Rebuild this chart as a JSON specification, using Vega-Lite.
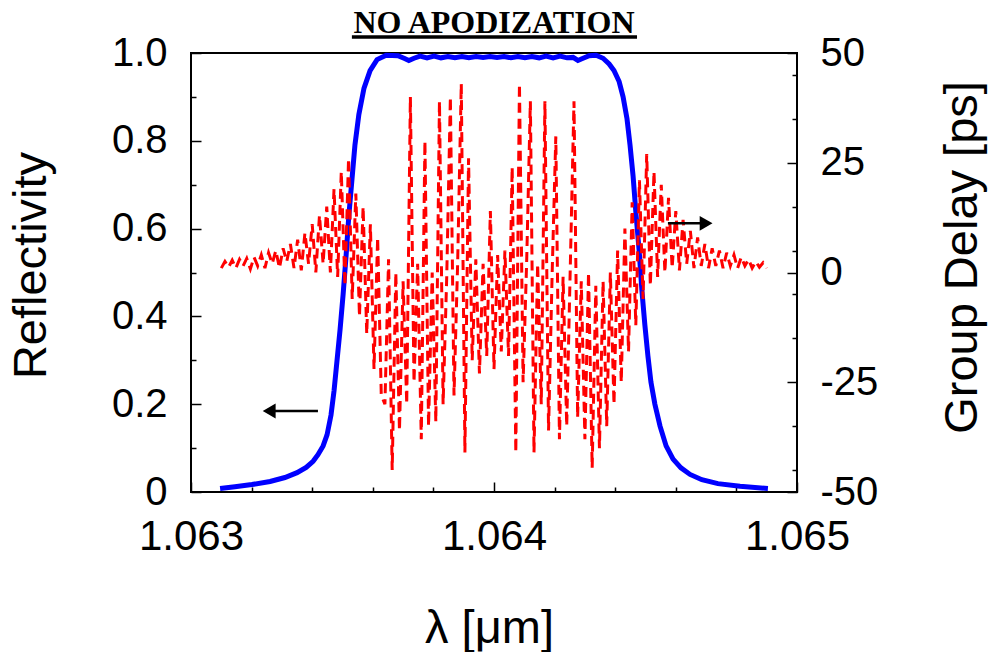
{
  "$schema": "https://vega.github.io/schema/vega-lite/v6.json",
  "width": 606,
  "height": 439,
  "autosize": {"type": "none"},
  "padding": {"left": 191, "top": 53, "right": 193, "bottom": 160},
  "background": "white",
  "config": {
    "view": {"stroke": "black", "strokeWidth": 2},
    "axis": {"grid": false, "domain": false, "labelFont": "Liberation Sans", "titleFont": "Liberation Sans", "labelFontSize": 40, "titleFontSize": 47, "titleFontWeight": "normal", "labelColor": "black", "titleColor": "black", "tickColor": "black", "tickWidth": 1.5, "labelOverlap": false, "labelFlush": false, "labelBound": false}
  },
  "title": {"text": "NO APODIZATION", "font": "Liberation Serif", "fontSize": 32, "fontWeight": "bold", "anchor": "middle", "offset": -7, "color": "black"},
  "datasets": {
    "refl": [
      {"w": 1.063096, "r": 0.008}, {"w": 1.063145, "r": 0.012}, {"w": 1.063201, "r": 0.017}, {"w": 1.063261, "r": 0.024},
      {"w": 1.063310, "r": 0.033}, {"w": 1.063350, "r": 0.044}, {"w": 1.063380, "r": 0.056}, {"w": 1.063403, "r": 0.07},
      {"w": 1.063419, "r": 0.085}, {"w": 1.063436, "r": 0.105}, {"w": 1.063449, "r": 0.13}, {"w": 1.063462, "r": 0.175},
      {"w": 1.063472, "r": 0.23}, {"w": 1.063482, "r": 0.30}, {"w": 1.063492, "r": 0.37}, {"w": 1.063502, "r": 0.45},
      {"w": 1.063512, "r": 0.54}, {"w": 1.063521, "r": 0.63}, {"w": 1.063531, "r": 0.71}, {"w": 1.063541, "r": 0.79},
      {"w": 1.063554, "r": 0.86}, {"w": 1.063571, "r": 0.92}, {"w": 1.063591, "r": 0.96}, {"w": 1.063614, "r": 0.985},
      {"w": 1.063644, "r": 0.995}, {"w": 1.063683, "r": 0.994}, {"w": 1.063703, "r": 0.988}, {"w": 1.063719, "r": 0.983},
      {"w": 1.063736, "r": 0.988}, {"w": 1.063756, "r": 0.993}, {"w": 1.063779, "r": 0.989}, {"w": 1.063802, "r": 0.993},
      {"w": 1.063825, "r": 0.989}, {"w": 1.063848, "r": 0.992}, {"w": 1.063871, "r": 0.989}, {"w": 1.063894, "r": 0.992},
      {"w": 1.063917, "r": 0.989}, {"w": 1.063941, "r": 0.992}, {"w": 1.063964, "r": 0.990}, {"w": 1.063987, "r": 0.992},
      {"w": 1.064010, "r": 0.990}, {"w": 1.064033, "r": 0.992}, {"w": 1.064056, "r": 0.989}, {"w": 1.064079, "r": 0.992},
      {"w": 1.064102, "r": 0.989}, {"w": 1.064125, "r": 0.992}, {"w": 1.064149, "r": 0.989}, {"w": 1.064172, "r": 0.993},
      {"w": 1.064195, "r": 0.989}, {"w": 1.064218, "r": 0.993}, {"w": 1.064241, "r": 0.989}, {"w": 1.064261, "r": 0.990},
      {"w": 1.064277, "r": 0.983}, {"w": 1.064294, "r": 0.988}, {"w": 1.064314, "r": 0.994}, {"w": 1.064337, "r": 0.995},
      {"w": 1.064360, "r": 0.988}, {"w": 1.064380, "r": 0.975}, {"w": 1.064396, "r": 0.96}, {"w": 1.064413, "r": 0.935},
      {"w": 1.064426, "r": 0.90}, {"w": 1.064439, "r": 0.85}, {"w": 1.064449, "r": 0.79}, {"w": 1.064459, "r": 0.72},
      {"w": 1.064469, "r": 0.63}, {"w": 1.064479, "r": 0.55}, {"w": 1.064488, "r": 0.46}, {"w": 1.064498, "r": 0.38},
      {"w": 1.064508, "r": 0.31}, {"w": 1.064518, "r": 0.25}, {"w": 1.064531, "r": 0.2}, {"w": 1.064548, "r": 0.15},
      {"w": 1.064568, "r": 0.105}, {"w": 1.064591, "r": 0.075}, {"w": 1.064617, "r": 0.055}, {"w": 1.064647, "r": 0.04},
      {"w": 1.064686, "r": 0.028}, {"w": 1.064739, "r": 0.019}, {"w": 1.064812, "r": 0.013}, {"w": 1.064904, "r": 0.008}
    ],
    "delay": [
      {"w": 1.063100, "g": 1.0}, {"w": 1.063112, "g": 2.5}, {"w": 1.063124, "g": 1.2}, {"w": 1.063136, "g": 2.8},
      {"w": 1.063148, "g": 1.0}, {"w": 1.063160, "g": 3.0}, {"w": 1.063172, "g": 1.5}, {"w": 1.063184, "g": 3.2},
      {"w": 1.063196, "g": 0.8}, {"w": 1.063208, "g": 3.5}, {"w": 1.063220, "g": 1.5}, {"w": 1.063232, "g": 4.0},
      {"w": 1.063244, "g": 1.0}, {"w": 1.063256, "g": 4.5}, {"w": 1.063268, "g": 2.0}, {"w": 1.063280, "g": 5.0},
      {"w": 1.063292, "g": 1.0}, {"w": 1.063304, "g": 5.5}, {"w": 1.063316, "g": 2.5}, {"w": 1.063328, "g": 6.5},
      {"w": 1.063340, "g": 1.0}, {"w": 1.063352, "g": 7.5}, {"w": 1.063364, "g": 0.5}, {"w": 1.063376, "g": 9},
      {"w": 1.063388, "g": 2}, {"w": 1.063400, "g": 11}, {"w": 1.063412, "g": 0}, {"w": 1.063424, "g": 13},
      {"w": 1.063436, "g": 2}, {"w": 1.063448, "g": 15}, {"w": 1.063460, "g": 0}, {"w": 1.063472, "g": 19},
      {"w": 1.063484, "g": -1}, {"w": 1.063496, "g": 23}, {"w": 1.063508, "g": -3}, {"w": 1.063520, "g": 26},
      {"w": 1.063532, "g": -6}, {"w": 1.063544, "g": 18}, {"w": 1.063556, "g": -10}, {"w": 1.063568, "g": 15},
      {"w": 1.063580, "g": -14}, {"w": 1.063592, "g": 11}, {"w": 1.063604, "g": -22}, {"w": 1.063616, "g": 8},
      {"w": 1.063628, "g": -28}, {"w": 1.063640, "g": -30}, {"w": 1.063652, "g": 3}, {"w": 1.063664, "g": -45},
      {"w": 1.063676, "g": 0}, {"w": 1.063688, "g": -36}, {"w": 1.063700, "g": -2}, {"w": 1.063712, "g": -30},
      {"w": 1.063724, "g": 40}, {"w": 1.063736, "g": -25}, {"w": 1.063748, "g": 2}, {"w": 1.063760, "g": -38},
      {"w": 1.063772, "g": 30}, {"w": 1.063784, "g": -35}, {"w": 1.063796, "g": 0}, {"w": 1.063808, "g": -34},
      {"w": 1.063820, "g": 39}, {"w": 1.063832, "g": -30}, {"w": 1.063844, "g": -1}, {"w": 1.063856, "g": 40},
      {"w": 1.063868, "g": -28}, {"w": 1.063880, "g": 2}, {"w": 1.063892, "g": 43}, {"w": 1.063904, "g": -41},
      {"w": 1.063916, "g": 26}, {"w": 1.063928, "g": -20}, {"w": 1.063940, "g": 3}, {"w": 1.063952, "g": -23},
      {"w": 1.063964, "g": 2}, {"w": 1.063976, "g": -19}, {"w": 1.063988, "g": 14}, {"w": 1.064000, "g": -22},
      {"w": 1.064012, "g": 4}, {"w": 1.064024, "g": -18}, {"w": 1.064036, "g": 5}, {"w": 1.064048, "g": -19},
      {"w": 1.064060, "g": 24}, {"w": 1.064072, "g": -41}, {"w": 1.064084, "g": 43}, {"w": 1.064096, "g": -25},
      {"w": 1.064108, "g": 3}, {"w": 1.064120, "g": 39}, {"w": 1.064132, "g": -41}, {"w": 1.064144, "g": 2},
      {"w": 1.064156, "g": -30}, {"w": 1.064168, "g": 39}, {"w": 1.064180, "g": -36}, {"w": 1.064192, "g": 0},
      {"w": 1.064204, "g": 31}, {"w": 1.064216, "g": -38}, {"w": 1.064228, "g": -1}, {"w": 1.064240, "g": -35},
      {"w": 1.064252, "g": 2}, {"w": 1.064264, "g": 39}, {"w": 1.064276, "g": -33}, {"w": 1.064288, "g": -2},
      {"w": 1.064300, "g": -38}, {"w": 1.064312, "g": 0}, {"w": 1.064324, "g": -44.5}, {"w": 1.064336, "g": -3},
      {"w": 1.064348, "g": -40}, {"w": 1.064360, "g": -2}, {"w": 1.064372, "g": -35}, {"w": 1.064384, "g": 0},
      {"w": 1.064396, "g": -30}, {"w": 1.064408, "g": 5}, {"w": 1.064420, "g": -25}, {"w": 1.064432, "g": 10},
      {"w": 1.064444, "g": -18}, {"w": 1.064456, "g": 16}, {"w": 1.064468, "g": -12}, {"w": 1.064480, "g": 21},
      {"w": 1.064492, "g": -6}, {"w": 1.064504, "g": 27}, {"w": 1.064516, "g": -3}, {"w": 1.064528, "g": 23},
      {"w": 1.064540, "g": -1}, {"w": 1.064552, "g": 20}, {"w": 1.064564, "g": 0}, {"w": 1.064576, "g": 17},
      {"w": 1.064588, "g": 1}, {"w": 1.064600, "g": 14}, {"w": 1.064612, "g": 0.5}, {"w": 1.064624, "g": 12},
      {"w": 1.064636, "g": 2}, {"w": 1.064648, "g": 9.5}, {"w": 1.064660, "g": 1}, {"w": 1.064672, "g": 8},
      {"w": 1.064684, "g": 1.5}, {"w": 1.064696, "g": 6.5}, {"w": 1.064708, "g": 1}, {"w": 1.064720, "g": 5.5},
      {"w": 1.064732, "g": 1.5}, {"w": 1.064744, "g": 5}, {"w": 1.064756, "g": 1}, {"w": 1.064768, "g": 4.5},
      {"w": 1.064780, "g": 1.5}, {"w": 1.064792, "g": 4}, {"w": 1.064804, "g": 1}, {"w": 1.064816, "g": 3.5},
      {"w": 1.064828, "g": 1.5}, {"w": 1.064840, "g": 3}, {"w": 1.064852, "g": 1}, {"w": 1.064864, "g": 2.5},
      {"w": 1.064876, "g": 1.2}, {"w": 1.064888, "g": 2.2}, {"w": 1.064900, "g": 1}
    ],
    "arrowL": [{"w": 1.063258, "w2": 1.063419, "r": 0.1845}],
    "arrowR": [{"w": 1.064574, "w2": 1.064700, "g": 11.2}],
    "underline": [{"w": 1.063531, "w2": 1.064472, "r": 1.0364}]
  },
  "encoding": {
    "x": {
      "field": "w", "type": "quantitative",
      "scale": {"domain": [1.063, 1.065], "nice": false, "zero": false},
      "axis": {
        "orient": "bottom",
        "values": [1.063, 1.0632, 1.0634, 1.0636, 1.0638, 1.064, 1.0642, 1.0644, 1.0646, 1.0648, 1.065],
        "labelExpr": "abs(datum.value*1000 - round(datum.value*1000)) < 0.001 ? format(datum.value, '.3f') : ''",
        "tickSize": {"condition": {"test": "abs(datum.value*1000 - round(datum.value*1000)) < 0.001", "value": -10}, "value": -5},
        "labelPadding": 34,
        "labelFontSize": 42,
        "title": "λ [μm]",
        "titleX": 298, "titleY": 136, "titleBaseline": "middle", "titleAlign": "center"
      }
    }
  },
  "layer": [
    {
      "encoding": {
        "y": {
          "field": "r", "type": "quantitative",
          "scale": {"domain": [0, 1], "nice": false, "zero": false},
          "axis": {
            "orient": "left",
            "values": [0, 0.1, 0.2, 0.3, 0.4, 0.5, 0.6, 0.7, 0.8, 0.9, 1.0],
            "labelExpr": "round(datum.value*10) % 2 == 0 ? (datum.value < 0.05 ? '0' : format(datum.value, '.1f')) : ''",
            "tickSize": {"condition": {"test": "round(datum.value*10) % 2 == 0", "value": -10}, "value": -5},
            "labelPadding": 34,
            "title": "Reflectivity",
            "titleX": -160, "titleY": 212, "titleAngle": -90, "titleBaseline": "middle", "titleAlign": "center"
          }
        }
      },
      "layer": [
        {"data": {"name": "refl"}, "mark": {"type": "line", "color": "#0000ff", "strokeWidth": 5}},
        {"data": {"name": "arrowL"}, "mark": {"type": "rule", "color": "black", "strokeWidth": 2.5}, "encoding": {"x2": {"field": "w2"}}},
        {"data": {"name": "arrowL"}, "mark": {"type": "point", "shape": "triangle-left", "filled": true, "color": "black", "size": 220, "opacity": 1}},
        {"data": {"name": "underline"}, "mark": {"type": "rule", "color": "black", "strokeWidth": 3.5, "clip": false}, "encoding": {"x2": {"field": "w2"}}}
      ]
    },
    {
      "encoding": {
        "y": {
          "field": "g", "type": "quantitative",
          "scale": {"domain": [-50, 50], "nice": false, "zero": false},
          "axis": {
            "orient": "right",
            "values": [-50, -45, -35, -25, -15, -5, 0, 5, 15, 25, 35, 45, 50],
            "labelExpr": "datum.value % 25 == 0 ? '' + datum.value : ''",
            "tickSize": {"condition": {"test": "datum.value % 25 == 0", "value": -10}, "value": -5},
            "labelPadding": 33,
            "title": "Group Delay [ps]",
            "titleX": 165, "titleY": 204, "titleAngle": -90, "titleBaseline": "middle", "titleAlign": "center"
          }
        }
      },
      "layer": [
        {"data": {"name": "delay"}, "mark": {"type": "line", "color": "#ff0000", "strokeWidth": 3, "strokeDash": [10, 6]}},
        {"data": {"name": "arrowR"}, "mark": {"type": "rule", "color": "black", "strokeWidth": 2.5}, "encoding": {"x2": {"field": "w2"}}},
        {"data": {"name": "arrowR"}, "mark": {"type": "point", "shape": "triangle-right", "filled": true, "color": "black", "size": 220, "opacity": 1}, "encoding": {"x": {"field": "w2", "type": "quantitative"}}}
      ]
    }
  ],
  "resolve": {"scale": {"y": "independent"}, "axis": {"y": "independent"}}
}
